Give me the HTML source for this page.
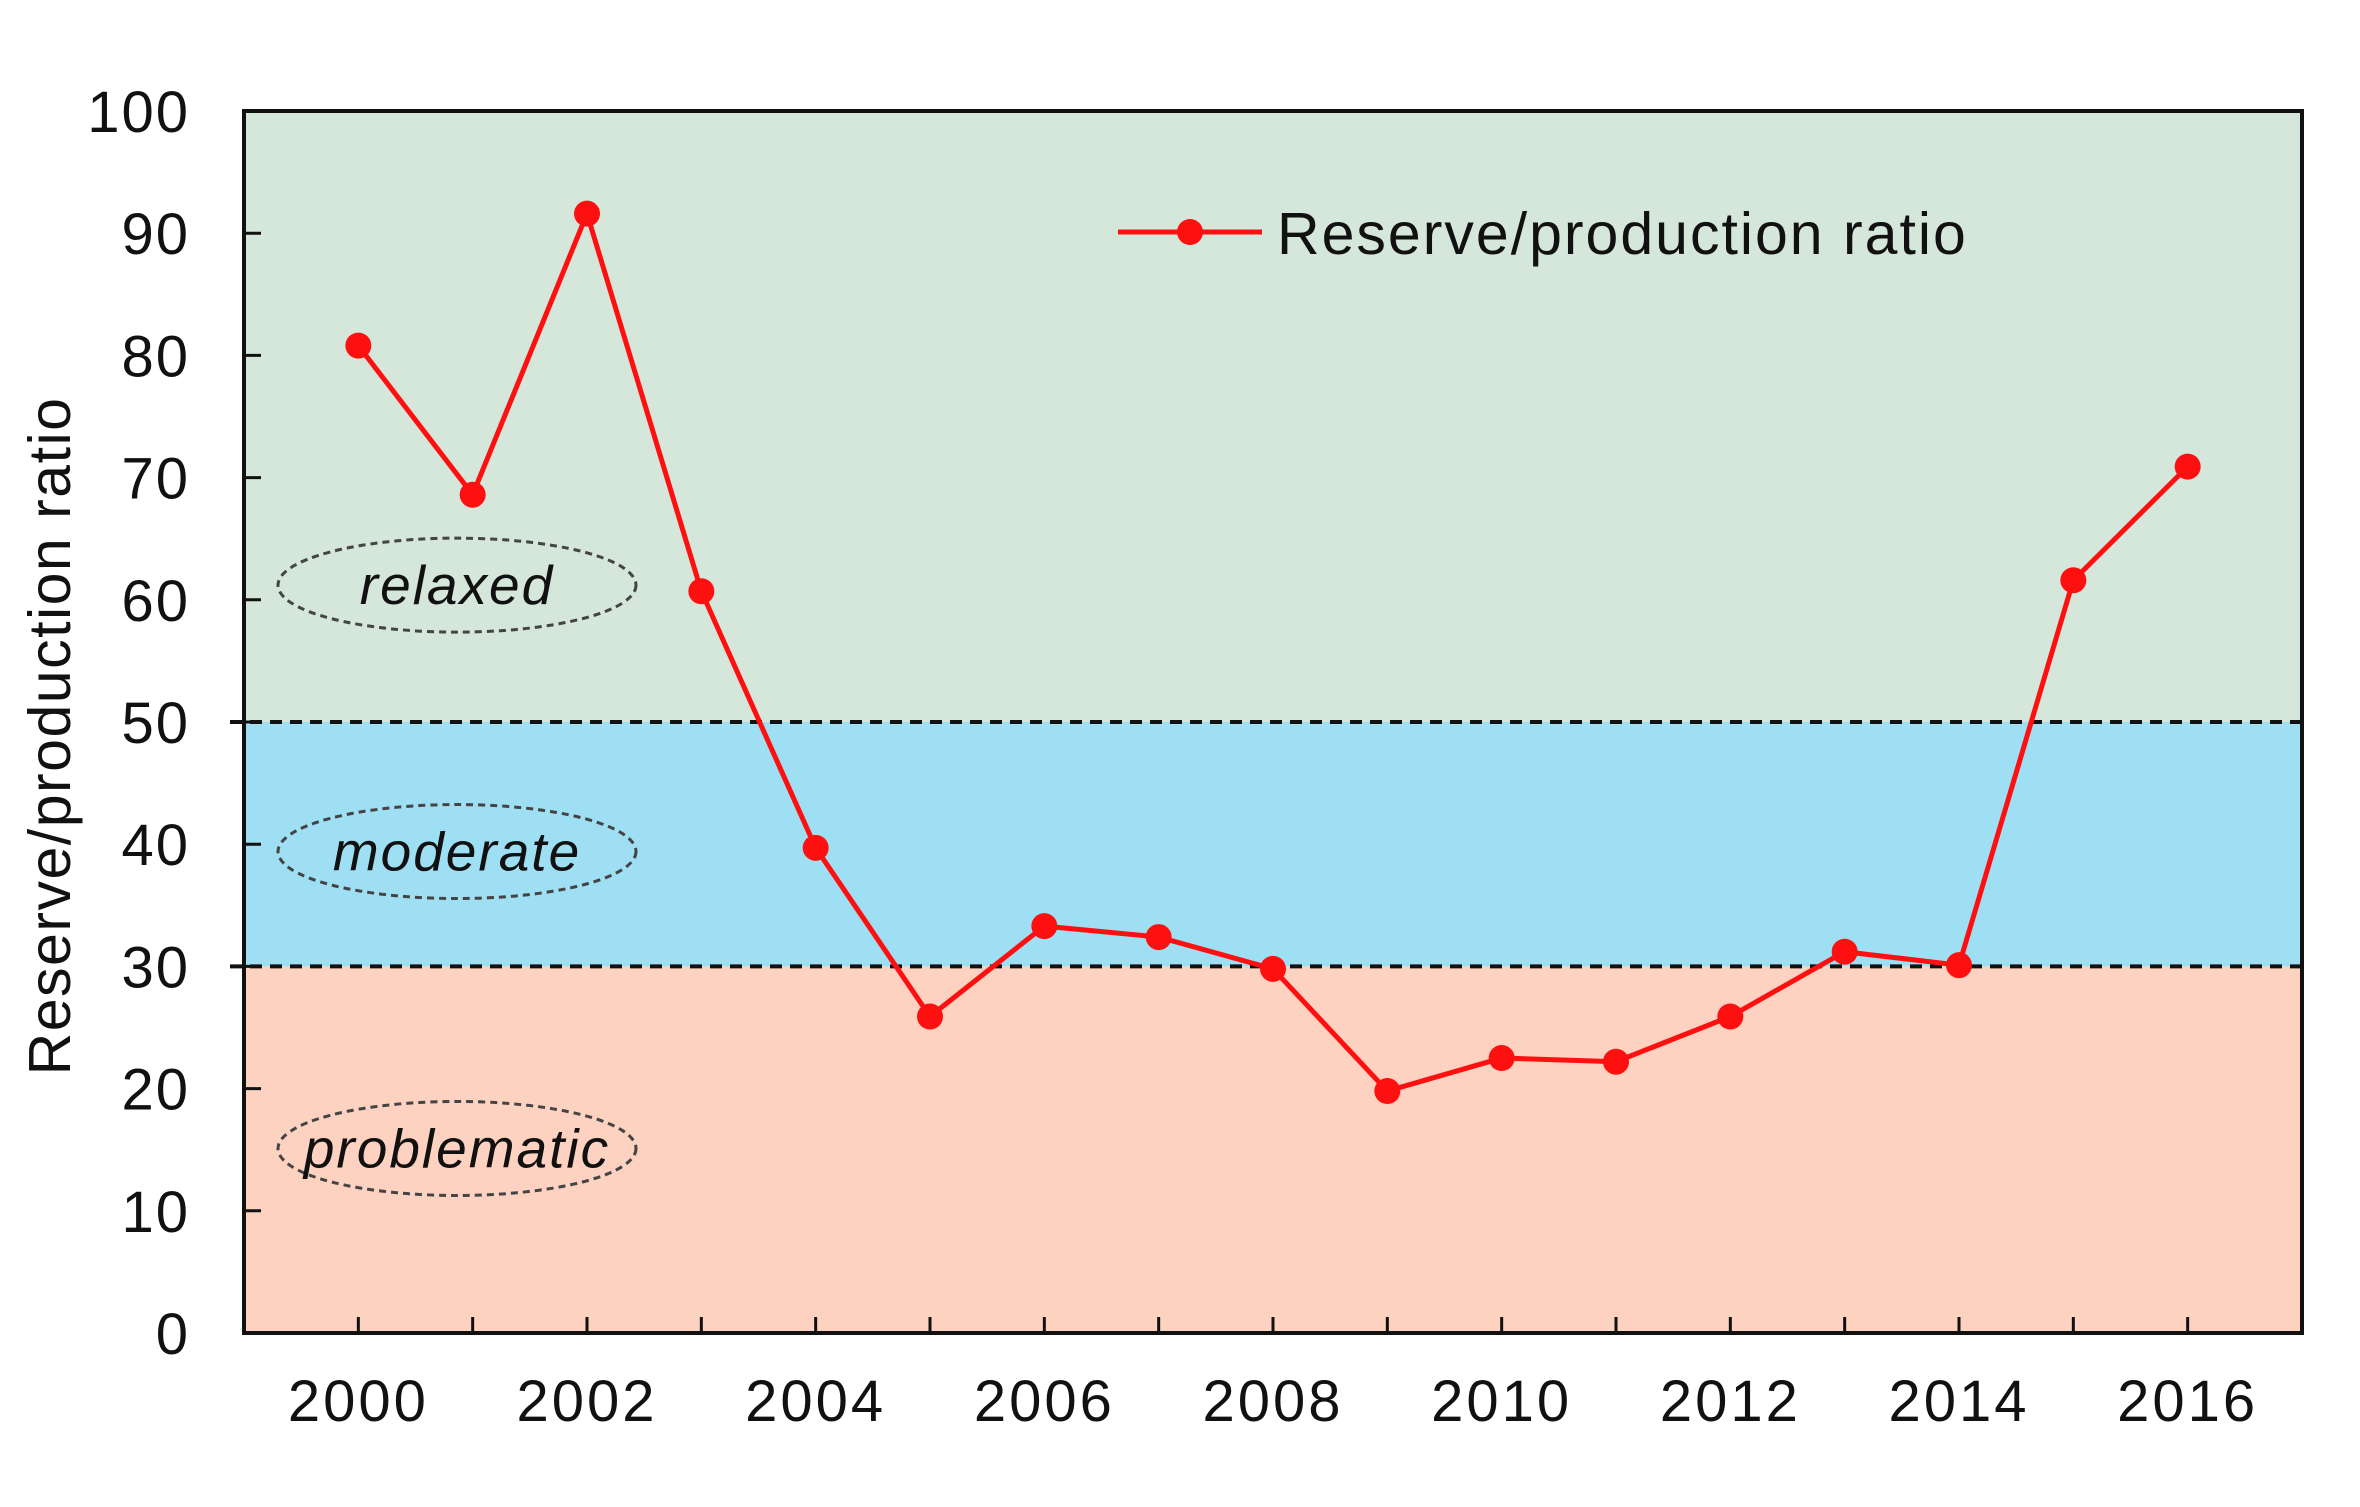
<!DOCTYPE html>
<html><head><meta charset="utf-8"><style>
html,body{margin:0;padding:0;background:#fff;}
svg{display:block;font-family:"Liberation Sans",Arial,sans-serif;}
</style></head><body>
<svg id="chart" width="2360" height="1507" viewBox="0 0 2360 1507" xmlns="http://www.w3.org/2000/svg"></svg>
<script>
const years = [2000,2001,2002,2003,2004,2005,2006,2007,2008,2009,2010,2011,2012,2013,2014,2015,2016];
const ratios = [80.8,68.6,91.6,60.7,39.7,25.9,33.3,32.4,29.8,19.8,22.5,22.2,25.9,31.2,30.1,61.6,70.9];
const yTicks = [0,10,20,30,40,50,60,70,80,90,100];
const xLabels = [2000,2002,2004,2006,2008,2010,2012,2014,2016];
const zoneBounds = [0,30,50,100];
const zoneNames = ["problematic","moderate","relaxed"];

const L=244, R=2302, T=111, B=1333;
const xMin=1999, xMax=2017.0, yMin=0, yMax=100;
const sx = v => L + (v-xMin)/(xMax-xMin)*(R-L);
const sy = v => B - (v-yMin)/(yMax-yMin)*(B-T);
const NS="http://www.w3.org/2000/svg";
const svg=document.getElementById('chart');
function mk(tag, attrs, parent){const e=document.createElementNS(NS,tag);for(const k in attrs)e.setAttribute(k,attrs[k]);(parent||svg).appendChild(e);return e;}

const zoneColors=["#fdd2c0","#9fdff3","#d5e6db"];
for(let i=0;i<3;i++){
  const r=mk('rect',{x:L,y:sy(zoneBounds[i+1]),width:R-L,height:sy(zoneBounds[i])-sy(zoneBounds[i+1]),fill:zoneColors[i]});
  
  
}
[30,50].forEach(v=>{
  const l=mk('line',{x1:230,x2:R,y1:sy(v),y2:sy(v),stroke:"#111","stroke-width":4,"stroke-dasharray":"12,8"});
  
  
});
const ellY=[15.1,39.4,61.2];
for(let i=0;i<3;i++){
  const g=mk('g',{});
  
  
  mk('ellipse',{cx:457,cy:sy(ellY[i]),rx:179,ry:47,fill:"none",stroke:"#444","stroke-width":3,"stroke-dasharray":"7,5"},g);
  const t=mk('text',{x:457,y:sy(ellY[i])+19,"text-anchor":"middle","font-size":55,"font-style":"italic","letter-spacing":"2",fill:"#111"},g);
  t.textContent=zoneNames[i];
}
const fr=mk('rect',{x:L,y:T,width:R-L,height:B-T,fill:"none",stroke:"#111","stroke-width":4});


yTicks.forEach(v=>{
  const tk=mk('line',{x1:L,x2:L+17,y1:sy(v),y2:sy(v),stroke:"#111","stroke-width":3});
  
  
  const t=mk('text',{x:190,y:sy(v)+21,"text-anchor":"end","font-size":58,"letter-spacing":"2",fill:"#111"});
  
  
  t.textContent=v;
});
years.forEach(v=>{
  const tk=mk('line',{x1:sx(v),x2:sx(v),y1:B,y2:B-16,stroke:"#111","stroke-width":3});
  
  
});
xLabels.forEach(v=>{
  const t=mk('text',{x:sx(v),y:1421,"text-anchor":"middle","font-size":58,"letter-spacing":"3",fill:"#111"});
  
  
  t.textContent=v;
});
const yt=mk('text',{x:0,y:0,transform:"translate(70,736) rotate(-90)","text-anchor":"middle","font-size":59,"letter-spacing":"1.5",fill:"#111"});


yt.textContent="Reserve/production ratio";
const pts=years.map((y,i)=>sx(y)+","+sy(ratios[i])).join(" ");
const pl=mk('polyline',{points:pts,fill:"none",stroke:"#ff1010","stroke-width":5,"stroke-linejoin":"round"});


years.forEach((y,i)=>{
  const c=mk('circle',{cx:sx(y),cy:sy(ratios[i]),r:13,fill:"#ff1010"});
  
  
});
const lg=mk('g',{});


mk('line',{x1:1118,x2:1262,y1:232,y2:232,stroke:"#ff1010","stroke-width":5},lg);
mk('circle',{cx:1190,cy:232,r:13,fill:"#ff1010"},lg);
const lt=mk('text',{x:1277,y:254,"font-size":59,"letter-spacing":"2",fill:"#111"},lg);
lt.textContent="Reserve/production ratio";
</script>
</body></html>
